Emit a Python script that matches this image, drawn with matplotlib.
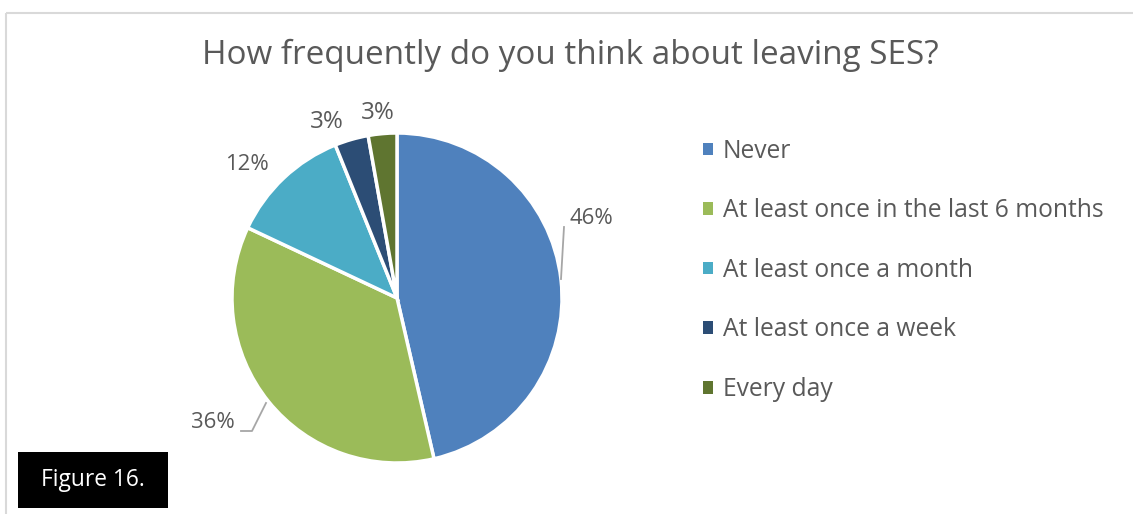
import matplotlib
matplotlib.use("Agg")
import matplotlib.pyplot as plt
from matplotlib.patches import Rectangle

categories = ["Never", "At least once in the last 6 months", "At least once a month",
              "At least once a week", "Every day"]
values = [46.4, 35.6, 11.9, 3.3, 2.8]
colors = ["#4F81BD", "#9BBB59", "#4BACC6", "#2C4D75", "#5F7530"]
title = "How frequently do you think about leaving SES?"
fig_label = "Figure 16."

W, H = 1133, 514
plt.rcParams['font.family'] = ['Open Sans', 'DejaVu Sans']
TXT = "#595959"

fig = plt.figure(figsize=(W / 100, H / 100), dpi=100)
ax = fig.add_axes([0, 0, 1, 1])

def Y(y):
    return H - y

wedges, _ = ax.pie(values, colors=colors, startangle=90, counterclock=False,
                   center=(397, Y(298)), radius=165, frame=True,
                   wedgeprops=dict(edgecolor="white", linewidth=2.5))
ax.set_xlim(0, W)
ax.set_ylim(0, H)
ax.set_aspect("equal")
ax.axis("off")

# chart border (top and left visible)
ax.plot([5.5, W], [Y(12.5), Y(12.5)], color="#D9D9D9", lw=1.5, solid_capstyle="butt")
ax.plot([5.5, 5.5], [Y(12.5), 0], color="#D9D9D9", lw=1.5, solid_capstyle="butt")

renderer = fig.canvas.get_renderer()

def fit(t, width):
    bb = t.get_window_extent(renderer=renderer)
    t.set_fontsize(t.get_fontsize() * width / bb.width)

tt = ax.text(570, Y(55), title, ha="center", va="center", color=TXT, fontsize=20)
fit(tt, 734)

# data labels
pct_labels = [f"{v:.0f}%" for v in values]
label_pos = [(591, 218), (213, 422), (247, 165), (327, 122), (378, 113)]
for s, (x, y) in zip(pct_labels, label_pos):
    t = ax.text(x, Y(y), s, ha="center", va="center", color=TXT, fontsize=14)
    fit(t, 44 if len(s) == 3 else 34)
# leader lines
ax.plot([564, 561], [Y(227), Y(279)], color="#A6A6A6", lw=1.3)
ax.plot([241, 252, 266], [Y(431), Y(431), Y(403)], color="#A6A6A6", lw=1.3)

# legend
leg = ax.legend(wedges, categories, loc="upper left", bbox_to_anchor=(703 / W, Y(138.5) / H),
                frameon=False, fontsize=17.7, labelcolor=TXT, handlelength=0.4,
                handleheight=0.4, handletextpad=0.4, labelspacing=1.41, borderpad=0,
                borderaxespad=0)
fig.canvas.draw()
for h in leg.legend_handles:
    h.set_edgecolor("none")

# figure box
ax.add_patch(Rectangle((18, Y(508)), 150, 56, facecolor="black", edgecolor="none"))
ft = ax.text(93, Y(480), fig_label, ha="center", va="center", color="white", fontsize=16)
fit(ft, 104)

fig.savefig("out.png", dpi=100)
